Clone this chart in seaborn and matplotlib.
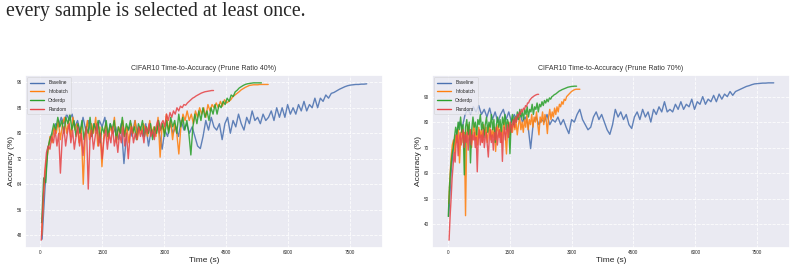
import matplotlib
matplotlib.use("Agg")
import matplotlib.pyplot as plt
from matplotlib.lines import Line2D
import numpy as np
import pandas as pd
import seaborn as sns

# ---- data (accuracy %, per epoch) ----
methods = ["Baseline", "Infobatch", "Orderdp", "Random"]

# prune ratio 40%
p40_span = {"Baseline": (40, 7900), "Infobatch": (30, 5514), "Orderdp": (30, 5350), "Random": (20, 4190)}
p40_baseline = [46.8, 62, 75, 78, 80, 83, 82, 85, 83, 86, 84, 86, 82, 84, 80, 85, 81, 84, 79, 83,
                80, 84, 82, 85, 79, 83, 80, 82, 78, 83, 70.5, 80, 82, 79, 84, 80, 82, 79, 83, 76,
                81, 79, 82, 80, 75, 81, 79, 83, 80, 82, 79, 84, 81, 83, 80, 82, 79, 76, 75.2, 79,
                84, 81, 85, 82, 81, 83, 78, 83, 85, 80, 84, 82, 86, 83, 81, 85, 83, 87, 84, 85,
                83, 86, 84, 85, 87, 84, 88, 85, 88, 85, 89, 86, 88, 86, 89, 87, 90, 87, 89, 88,
                91, 88, 91, 90, 92, 91, 92.5, 92.8, 93.3, 93.8, 94.2, 94.6, 94.9, 95.1, 95.2, 95.3,
                95.3, 95.4, 95.4, 95.5]
p40_infobatch = [48, 62, 70, 74, 79, 77, 82, 80, 84, 78, 83, 85, 80, 84, 79, 85, 81, 83, 77, 82,
                 64, 80, 84, 78, 83, 80, 85, 76, 82, 69.5, 80, 83, 78, 82, 80, 85, 77, 82, 80, 84,
                 79, 82, 77, 83, 80, 84, 78, 82, 80, 83, 81, 79, 84, 80, 82, 79, 85, 72.5, 83, 80,
                 86, 81, 84, 78, 83, 80, 73.5, 82, 86, 84, 87, 84, 86, 83, 87, 85, 88, 86, 88, 85,
                 89, 87, 89, 88, 89.5, 88, 90, 88.5, 90.5, 89.5, 90, 90.5, 91.5, 92, 92.5, 93,
                 93.6, 94, 94.4, 94.7, 95, 95.1, 95.2, 95.2, 95.2, 95.3, 95.3, 95.3, 95.3, 95.3]
p40_orderdp = [52, 66, 64.5, 75, 78, 80, 83, 81, 85, 82, 84, 80, 85, 83, 86, 81, 84, 79, 83, 80,
               84, 78, 82, 80, 85, 79, 83, 81, 84, 77, 82, 80, 84, 79, 83, 81, 84, 78, 82, 80,
               85, 79, 83, 81, 84, 80, 82, 78, 83, 81, 84, 79, 82, 80, 83, 78, 82, 80, 84, 81,
               83, 79, 84, 80, 85, 82, 84, 80, 86, 82, 85, 81, 84, 80, 73.2, 82, 86, 83, 87, 84,
               88, 85, 87, 84, 88, 86, 89, 86, 89, 88, 90, 89, 91, 90, 92, 91.5, 93, 93.5, 94.2, 94.6,
               95, 95.3, 95.5, 95.6, 95.7, 95.8, 95.8, 95.8, 95.8, 95.8]
p40_random = [46.5, 58, 68, 74, 76, 75, 79, 77, 81, 76, 80, 67.5, 78, 82, 76, 80, 83, 77, 81, 75,
              79, 82, 76, 80, 73, 79, 82, 62.5, 78, 81, 75, 79, 83, 76, 80, 72, 78, 81, 75, 80,
              77, 82, 76, 79, 74, 80, 77, 82, 76, 80, 72, 79, 82, 77, 80, 78, 82, 79, 81, 77,
              82, 80, 83, 79, 81, 78, 82, 84, 80, 83, 84, 82, 86, 84, 86.5, 85, 87, 86, 88, 87,
              88.5, 88, 89, 88.8, 89.5, 90, 90.5, 91, 91.3, 91.7, 92, 92.3, 92.6, 92.8, 93, 93.1,
              93.2, 93.3, 93.4, 93.4]

# prune ratio 70%
p70_span = {"Baseline": (20, 7900), "Infobatch": (20, 3200), "Orderdp": (10, 3120), "Random": (30, 2200)}
p70_baseline = [43, 62, 72, 76, 80, 78, 83, 85, 83, 86, 84, 86.5, 83, 85, 82, 85.5, 81, 84, 80, 83,
                85, 81, 84, 80, 83, 81, 84, 80, 82, 79, 69.6, 80, 82, 79, 81, 80, 83, 79, 81, 80,
                82, 79, 81, 78, 75.5, 81, 80, 83, 85, 81, 79, 77, 78, 82, 84, 81, 83, 80, 77, 75.2,
                79, 85, 82, 84, 81, 83, 79, 77.5, 82, 84, 81, 85, 82, 84, 80, 85, 83, 86, 84, 88,
                84, 85, 84, 87, 85, 88, 85, 87, 86, 89, 85, 88, 87, 90, 87, 89, 88, 90.5, 88, 91,
                89, 91, 90, 92, 90.5, 92, 92.5, 93, 93.5, 94, 94.3, 94.7, 95, 95.1, 95.2, 95.3,
                95.3, 95.4, 95.4, 95.4]
p70_infobatch = [48, 58, 66, 71, 73, 68, 75, 72, 77, 64, 74, 78, 72, 76, 43.3, 75, 79, 73, 77, 70,
                 76, 79, 73, 77, 71, 78, 74, 77, 72, 79, 75, 78, 72, 76, 79, 73, 77, 74, 78, 68.5,
                 76, 79, 74, 78, 72, 77, 80, 75, 67.5, 77, 80, 75, 79, 76, 81, 77, 80, 75, 79, 82,
                 77, 80, 76, 81, 78, 83, 77, 81, 79, 83, 78, 82, 80, 84, 79, 75, 82, 80, 84, 79,
                 83, 81, 75.5, 82, 85, 81, 84, 82, 85.5, 83, 86, 84, 87, 86, 88, 87, 89, 88.5, 90, 90.5,
                 91, 91.5, 92, 92.3, 92.6, 92.8, 92.9, 92.9, 92.9, 92.9]
p70_orderdp = [43, 55, 62, 67, 70, 74, 78, 75, 80, 77, 82, 76, 79, 59.3, 78, 81, 75, 80, 64, 77,
               82, 78, 80, 75, 81, 79, 83, 77, 80, 74, 79, 82, 76, 80, 78, 83, 77, 81, 72, 79,
               82, 78, 81, 76, 82, 79, 83, 77, 81, 79, 67.6, 80, 83, 79, 82, 80, 84, 81, 85, 82,
               84, 81, 85, 83, 86, 82, 85, 84, 87, 83, 86, 85, 87.5, 84, 87, 86, 88, 86.5, 88.5, 87.5,
               89, 88, 89.5, 89, 90, 90.3, 90.8, 91, 91.4, 91.8, 92.2, 92.4, 92.7, 92.9, 93.1, 93.3,
               93.5, 93.7, 93.8, 93.9, 94, 94, 94.1, 94.1, 94.1]
p70_random = [33.7, 43, 50, 58, 63, 68, 64.3, 72, 75, 66.8, 73, 76, 71, 74, 77, 70, 75, 72, 76, 69,
              74, 77, 71, 75, 73, 76, 70, 74, 60.5, 73, 77, 71, 75, 72, 77, 70, 74, 76, 71, 66.3,
              74, 77, 72, 75, 69, 76, 73, 78, 71, 75, 77, 72, 76, 64.6, 75, 78, 73, 76, 79, 74,
              78, 80, 76, 79, 81, 78, 82, 80, 83, 82, 84, 83, 85, 84, 85.5, 85, 86.5, 86, 87.5, 87.5,
              88.5, 89, 89.5, 89.8, 90.1, 90.4, 90.6, 90.8, 90.9, 90.9]

panels = [
    ("CIFAR10 Time-to-Accuracy (Prune Ratio 40%)", p40_span,
     [p40_baseline, p40_infobatch, p40_orderdp, p40_random], [48, 56, 64, 72, 80, 88, 96]),
    ("CIFAR10 Time-to-Accuracy (Prune Ratio 70%)", p70_span,
     [p70_baseline, p70_infobatch, p70_orderdp, p70_random], [40, 50, 60, 70, 80, 90]),
]
xticks = [0, 1500, 3000, 4500, 6000, 7500]
colors = {"Baseline": "#4C72B0", "Infobatch": "#FF7F0E", "Orderdp": "#2CA02C", "Random": "#E6474A"}


def to_frame(span, series):
    rows = []
    for m, vals in zip(methods, series):
        t0, t1 = span[m]
        # one accuracy value per epoch, epochs evenly spread in wall-clock time
        t = np.linspace(t0, t1, len(vals))
        rows.append(pd.DataFrame({"time": t, "acc": vals, "method": m}))
    return pd.concat(rows, ignore_index=True)


sns.set_theme(style="darkgrid")
plt.rcParams["font.family"] = ["Liberation Sans", "DejaVu Sans"]

fig = plt.figure(figsize=(7.97, 2.69), dpi=100)
fig.text(0.008, 1 - 16 / 269, "every sample is selected at least once.",
         family="Liberation Serif", fontsize=14.2, va="baseline", ha="left")

lefts = [25 / 797, 432 / 797]
for (title, span, series, yticks), left in zip(panels, lefts):
    ax = fig.add_axes([left, 1 - 248 / 269, 358 / 797, 173 / 269])
    df = to_frame(span, series)
    sns.lineplot(data=df, x="time", y="acc", hue="method", hue_order=methods,
                 palette=colors, linewidth=1.0, alpha=0.88, ax=ax, sort=False,
                 estimator=None, legend=False)
    ax.set_title(title, fontsize=5, pad=3.5, color="#333333")
    ax.set_xlabel("Time (s)", fontsize=6, labelpad=1.5)
    ax.set_ylabel("Accuracy (%)", fontsize=6, labelpad=1.5)
    ax.set_xticks(xticks)
    ax.set_yticks(yticks)
    ax.tick_params(axis="x", labelsize=3.3, pad=1.5, length=0)
    ax.tick_params(axis="y", labelsize=3.3, pad=2, length=0)
    ax.grid(True, color="white", linestyle="--", linewidth=0.6, alpha=0.9)
    handles = [Line2D([], [], color=colors[m], lw=1.0) for m in methods]
    leg = ax.legend(handles, methods, loc="upper left", fontsize=3.4, frameon=True,
                    handlelength=3, labelspacing=0.8, borderpad=0.6, handletextpad=0.8)
    leg.get_frame().set_linewidth(0.4)

fig.savefig("out.png", dpi=100)
